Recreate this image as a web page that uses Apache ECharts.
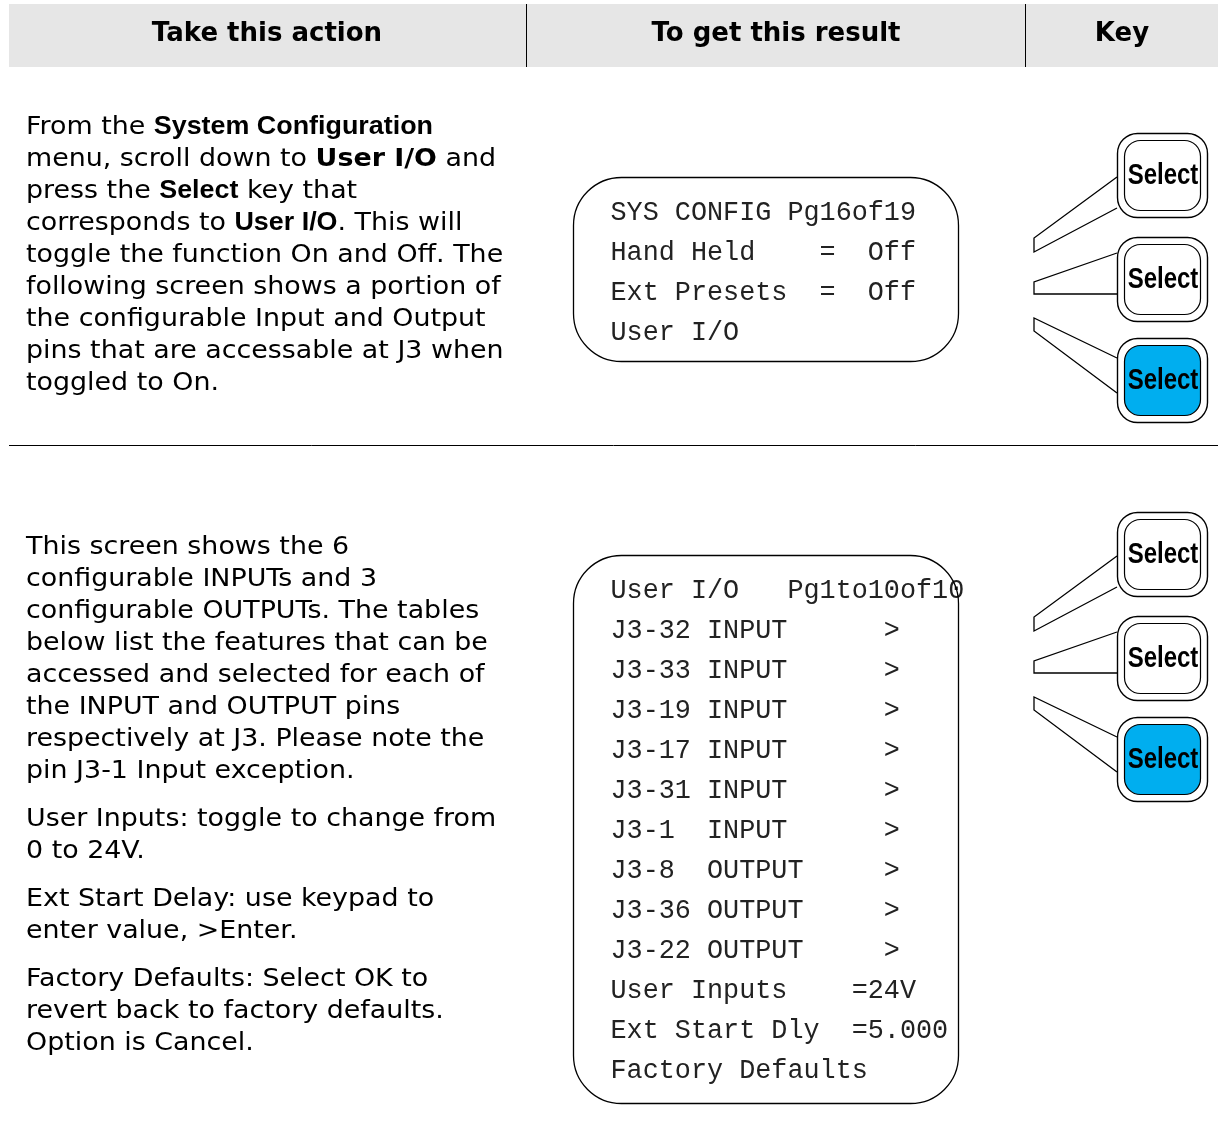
<!DOCTYPE html>
<html><head><meta charset="utf-8">
<script src="https://cdn.jsdelivr.net/npm/echarts@6/dist/echarts.min.js"></script>
<style>html,body{margin:0;padding:0;background:#fff}#c{width:1220px;height:1144px}</style>
</head><body><div id="c"></div>
<script>
// ---- content ----
var headers = ['Take this action', 'To get this result', 'Key'];
var action1 = [
  'From the {ab|System Configuration}',
  'menu, scroll down to {vb|User I/O} and',
  'press the {ab|Select} key that',
  'corresponds to {ab|User I/O}. This will',
  'toggle the function On and Off. The',
  'following screen shows a portion of',
  'the configurable Input and Output',
  'pins that are accessable at J3 when',
  'toggled to On.'
];
var action2 = [
  ['This screen shows the 6',
   'configurable INPUTs and 3',
   'configurable OUTPUTs. The tables',
   'below list the features that can be',
   'accessed and selected for each of',
   'the INPUT and OUTPUT pins',
   'respectively at J3. Please note the',
   'pin J3-1 Input exception.'],
  ['User Inputs: toggle to change from', '0 to 24V.'],
  ['Ext Start Delay: use keypad to', 'enter value, >Enter.'],
  ['Factory Defaults: Select OK to', 'revert back to factory defaults.', 'Option is Cancel.']
];
var screen1 = [
  'SYS CONFIG Pg16of19',
  'Hand Held    =  Off',
  'Ext Presets  =  Off',
  'User I/O'
];
var screen2 = [
  'User I/O   Pg1to10of10',
  'J3-32 INPUT      >',
  'J3-33 INPUT      >',
  'J3-19 INPUT      >',
  'J3-17 INPUT      >',
  'J3-31 INPUT      >',
  'J3-1  INPUT      >',
  'J3-8  OUTPUT     >',
  'J3-36 OUTPUT     >',
  'J3-22 OUTPUT     >',
  'User Inputs    =24V',
  'Ext Start Dly  =5.000',
  'Factory Defaults'
];
var keyLabels = ['Select', 'Select', 'Select'];
var keyActive = [false, false, true];

// ---- drawing ----
var chart = echarts.init(document.getElementById('c'), null, {renderer: 'canvas'});
var g = [];
var BODY = 'DejaVu Sans';
var ARIAL = 'Liberation Sans';
var MONO = 'Liberation Mono';
var rich = {
  n:  {fontFamily: BODY, fontSize: 25, fill: '#000'},
  ab: {fontFamily: ARIAL, fontWeight: 'bold', fontSize: 25, fill: '#000'},
  vb: {fontFamily: BODY, fontWeight: 'bold', fontSize: 25, fill: '#000'}
};
function txt(x, y, s, opt, sx) {
  g.push({type: 'text', x: x, y: y, scaleX: sx || 1, silent: true, z: 5, style: Object.assign({
    text: s, fill: '#000', fontFamily: BODY, fontSize: 25, verticalAlign: 'middle', align: 'left'
  }, opt || {})});
}
function line(pts, w) {
  g.push({type: 'polyline', silent: true, z: 3, shape: {points: pts}, style: {stroke: '#000', lineWidth: w || 1.3, fill: null}});
}

// header
g.push({type: 'rect', silent: true, shape: {x: 9, y: 4, width: 1209, height: 63}, style: {fill: '#e6e6e6'}});
line([[526.5, 4], [526.5, 67]], 1);
line([[1025.5, 4], [1025.5, 67]], 1);
var hc = [267, 776, 1122];
headers.forEach(function (h, i) {
  txt(hc[i], 34, h, {fontFamily: BODY, fontWeight: 'bold', fontSize: 26, align: 'center'}, 1.0);
});
// separator
line([[9, 445.5], [1218, 445.5]], 1);

// action texts (Verdana-like width)
var BSX = 1.075;
action1.forEach(function (s, i) { txt(26, 127 + 32 * i, s, {rich: rich}, BSX); });
var y = 547;
action2.forEach(function (para) {
  para.forEach(function (s) { txt(26, y, s, null, BSX); y += 32; });
  y += 16;
});

// screens
function screen(x, y0, w, h, lines) {
  g.push({type: 'rect', silent: true, z: 6, shape: {x: x, y: y0, width: w, height: h, r: 48},
    style: {fill: null, stroke: '#000', lineWidth: 1.3}});
  lines.forEach(function (s, i) {
    txt(x + 37, y0 + 35 + 40 * i, s, {fontFamily: MONO, fontSize: 26.8, fill: '#222'});
  });
}
screen(573.5, 177.5, 385, 184, screen1);
screen(573.5, 555.5, 385, 548, screen2);

// keys
function keys(dy) {
  var tops = [133, 237, 338];
  tops.forEach(function (t, i) {
    t += dy;
    g.push({type: 'rect', silent: true, z: 4, shape: {x: 1117.5, y: t + 0.5, width: 90, height: 84, r: 20},
      style: {fill: '#fff', stroke: '#000', lineWidth: 1.4}});
    g.push({type: 'rect', silent: true, z: 4, shape: {x: 1124.5, y: t + 7.5, width: 76, height: 70, r: 16},
      style: {fill: keyActive[i] ? '#00aeef' : '#fff', stroke: '#000', lineWidth: 1.2}});
    txt(1163, t + 43, keyLabels[i], {fontFamily: ARIAL, fontWeight: 'bold', fontSize: 30, align: 'center'}, 0.8);
  });
  line([[1117, 177 + dy], [1034, 238 + dy], [1034, 252 + dy], [1117, 208 + dy]]);
  line([[1117, 253 + dy], [1034, 282 + dy], [1034, 294 + dy], [1117, 294 + dy]]);
  line([[1117, 358 + dy], [1034, 318 + dy], [1034, 331 + dy], [1117, 393 + dy]]);
}
keys(0);
keys(379);

chart.setOption({animation: false, graphic: {elements: g}});
</script></body></html>
